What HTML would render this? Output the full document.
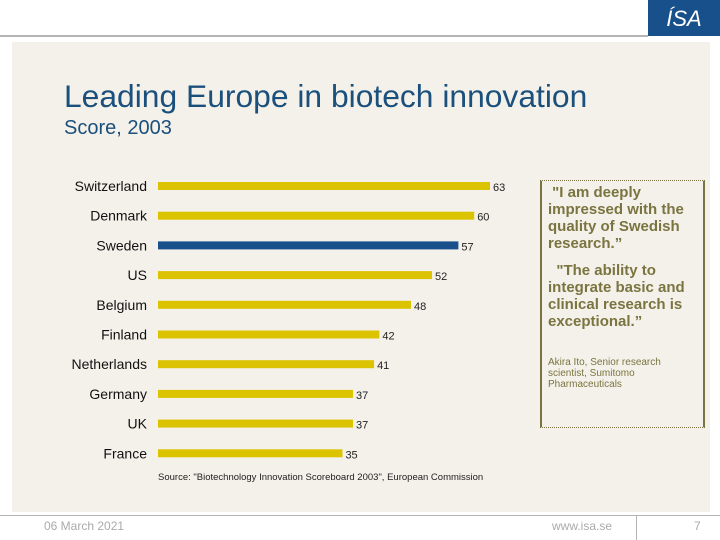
<!DOCTYPE html>
<html><head><meta charset="utf-8"><style>
body{margin:0;width:720px;height:540px;position:relative;background:#fff;font-family:"Liberation Sans",sans-serif;overflow:hidden}
.abs{position:absolute}
</style></head><body>
<div class="abs" style="left:0;top:35px;width:648px;height:2px;background:#b4b4b4"></div>
<div class="abs" style="left:648px;top:0;width:72px;height:36px;background:#17508a;color:#fff;font-size:22px;text-align:center;line-height:38px;font-style:italic">ÍSA</div>
<div class="abs" style="left:12px;top:42px;width:698px;height:470px;background:#f4f1ea"></div>
<div class="abs" style="left:64px;top:78px;font-size:31.8px;color:#1b4f7c;white-space:nowrap">Leading Europe in biotech innovation</div>
<div class="abs" style="left:64px;top:117px;font-size:20px;color:#1b4f7c">Score, 2003</div>
<svg class="abs" style="left:0;top:0" width="720" height="540" id="chart"></svg>
<div class="abs" style="left:540px;top:180px;width:161px;height:246px;border-left:2px solid #7a7440;border-right:2px solid #7a7440;border-top:1px dotted #7a7440;border-bottom:1px dotted #7a7440;color:#7a7440">
<div style="position:absolute;left:6px;top:3px;font-size:15px;font-weight:bold;line-height:17px;width:158px">&nbsp;"I am deeply impressed with the quality of Swedish research.”</div>
<div style="position:absolute;left:6px;top:81px;font-size:15px;font-weight:bold;line-height:17px;width:158px">&nbsp;&nbsp;"The ability to integrate basic and clinical research is exceptional.”</div>
<div style="position:absolute;left:6px;top:176px;font-size:10px;line-height:11px;width:150px">Akira Ito, Senior research scientist, Sumitomo Pharmaceuticals</div>
</div>
<div class="abs" style="left:158px;top:472px;font-size:9.5px;color:#222">Source: "Biotechnology Innovation Scoreboard 2003", European Commission</div>
<div class="abs" style="left:0;top:515px;width:720px;height:1px;background:#b4b4b4"></div>
<div class="abs" style="left:636px;top:516px;width:1px;height:24px;background:#b4b4b4"></div>
<div class="abs" style="left:44px;top:519px;font-size:12px;color:#aaa">06 March 2021</div>
<div class="abs" style="left:552px;top:519px;font-size:12px;color:#aaa">www.isa.se</div>
<div class="abs" style="left:694px;top:519px;font-size:12px;color:#aaa">7</div>
<script>
const categories=["Switzerland","Denmark","Sweden","US","Belgium","Finland","Netherlands","Germany","UK","France"];
const scores=[63,60,57,52,48,42,41,37,37,35];
const highlight=["Sweden"];
const svg=document.getElementById('chart');
const NS='http://www.w3.org/2000/svg';
const x0=158,pxPer=5.27,yTop=186,step=29.7;
const xs=v=>x0+v*pxPer;
const ys=i=>yTop+i*step;
categories.forEach((c,i)=>{
  const y=ys(i);
  const r=document.createElementNS(NS,'rect');
  r.setAttribute('x',x0);r.setAttribute('y',y-4);r.setAttribute('width',xs(scores[i])-x0);r.setAttribute('height',8);
  r.setAttribute('fill',highlight.includes(c)?'#17508a':'#dcc300');
  
  
  svg.appendChild(r);
  const t=document.createElementNS(NS,'text');
  t.setAttribute('x',147);t.setAttribute('y',y+5);t.setAttribute('text-anchor','end');
  t.setAttribute('font-size','14');t.setAttribute('fill','#111');t.setAttribute('font-family','Liberation Sans, sans-serif');
  t.textContent=c;
  
  
  svg.appendChild(t);
  const v=document.createElementNS(NS,'text');
  v.setAttribute('x',xs(scores[i])+3);v.setAttribute('y',y+5);
  v.setAttribute('font-size','11');v.setAttribute('fill','#222');v.setAttribute('font-family','Liberation Sans, sans-serif');
  v.textContent=scores[i];
  
  
  svg.appendChild(v);
});
</script>
</body></html>
